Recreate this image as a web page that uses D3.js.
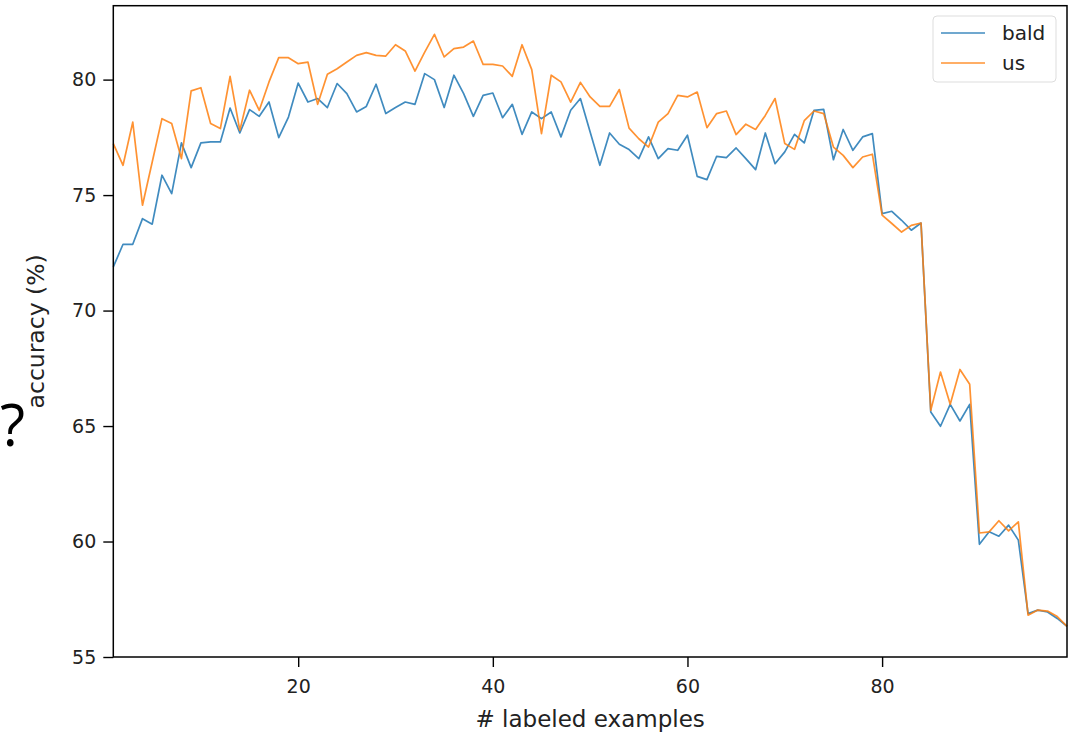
<!DOCTYPE html>
<html>
<head>
<meta charset="utf-8">
<script src="https://cdn.jsdelivr.net/npm/d3@7"></script>
<style>
  html, body { margin: 0; padding: 0; background: #fff; }
  svg { display: block; font-family: "DejaVu Sans", sans-serif; }
  .axis .domain { display: none; }
  .axis line { stroke: #000; stroke-width: 1.4; }
  .axis text { fill: #222; font-size: 19px; font-family: "DejaVu Sans", sans-serif; }
</style>
</head>
<body>
<div id="chart"></div>
<script>
// accuracy vs. number of labeled examples, two selection strategies

const examples = d3.range(1, 100);   // # labeled examples, 1..99

const bald = [
  71.89, 72.87, 72.87, 73.98, 73.74, 75.86, 75.06, 77.26, 76.19, 77.26,
  77.30, 77.30, 78.77, 77.69, 78.70, 78.41, 79.03, 77.49, 78.38, 79.85,
  79.03, 79.18, 78.79, 79.83, 79.39, 78.60, 78.84, 79.80, 78.53, 78.79,
  79.03, 78.93, 80.26, 80.00, 78.79, 80.19, 79.39, 78.41, 79.32, 79.42,
  78.35, 78.93, 77.63, 78.60, 78.31, 78.60, 77.52, 78.67, 79.18, 77.73,
  76.29, 77.69, 77.20, 76.97, 76.58, 77.52, 76.58, 77.01, 76.94, 77.59,
  75.81, 75.67, 76.68, 76.62, 77.04, 76.58, 76.10, 77.69, 76.36, 76.87,
  77.63, 77.26, 78.67, 78.71, 76.53, 77.84, 76.94, 77.52, 77.66, 74.20,
  74.30, 73.91, 73.48, 73.79, 65.61, 64.99, 65.94, 65.22, 65.94, 59.88,
  60.42, 60.23, 60.71, 60.06, 56.88, 57.03, 56.95, 56.67, 56.33
];

const us = [
  77.23, 76.29, 78.16, 74.56, 76.43, 78.31, 78.10, 76.58, 79.51, 79.65,
  78.10, 77.88, 80.14, 77.80, 79.54, 78.67, 79.90, 80.95, 80.95, 80.69,
  80.76, 78.93, 80.23, 80.47, 80.76, 81.05, 81.17, 81.05, 81.02, 81.51,
  81.24, 80.37, 81.19, 81.96, 80.98, 81.34, 81.41, 81.67, 80.66, 80.66,
  80.59, 80.14, 81.51, 80.43, 77.66, 80.19, 79.90, 79.03, 79.88, 79.25,
  78.84, 78.84, 79.57, 77.90, 77.44, 77.08, 78.16, 78.53, 79.32, 79.25,
  79.46, 77.92, 78.53, 78.64, 77.62, 78.07, 77.84, 78.45, 79.18, 77.23,
  76.98, 78.22, 78.64, 78.53, 77.08, 76.72, 76.19, 76.65, 76.77, 74.13,
  73.77, 73.40, 73.69, 73.79, 65.68, 67.34, 65.94, 67.45, 66.81, 60.37,
  60.42, 60.90, 60.46, 60.85, 56.81, 57.03, 56.99, 56.75, 56.33
];

const seriesNames = ["bald", "us"];
const seriesColors = ["#1f77b4", "#ff7f0e"];
const xTicks = [20, 40, 60, 80];
const yTicks = [55, 60, 65, 70, 75, 80];

const W = 1074, H = 734;
const margin = { top: 5.7, right: 7, bottom: 77, left: 113.3 };

const svg = d3.select("#chart").append("svg")
  .attr("width", W).attr("height", H);

const x = d3.scaleLinear().domain([1, 99]).range([margin.left, W - margin.right]);
const y = d3.scaleLinear().domain([55, 83.2]).range([H - margin.bottom, margin.top]);

// lines
const line = d3.line()
  .x((d, i) => x(examples[i]))
  .y(d => y(d));

const gLines = svg.append("g");
[bald, us].forEach((vals, k) => {
  gLines.append("path")
    .attr("d", line(vals))
    .attr("fill", "none")
    .attr("stroke", seriesColors[k])
    .attr("stroke-opacity", 0.85)
    .attr("stroke-width", 1.7)
    .attr("stroke-linejoin", "round");
});

// axes
svg.append("g").attr("class", "axis")
  .attr("transform", `translate(0,${H - margin.bottom})`)
  .call(d3.axisBottom(x).tickValues(xTicks).tickSize(10).tickPadding(13));

svg.append("g").attr("class", "axis")
  .attr("transform", `translate(${margin.left},0)`)
  .call(d3.axisLeft(y).tickValues(yTicks).tickSize(10).tickPadding(7));

// frame
svg.append("rect")
  .attr("x", margin.left).attr("y", margin.top)
  .attr("width", W - margin.right - margin.left)
  .attr("height", H - margin.bottom - margin.top)
  .attr("fill", "none").attr("stroke", "#000").attr("stroke-width", 1.5);

// axis titles
svg.append("text")
  .attr("x", (margin.left + W - margin.right) / 2).attr("y", 727)
  .attr("text-anchor", "middle").attr("font-size", 23).attr("fill", "#222")
  .text("# labeled examples");

svg.append("text")
  .attr("transform", `translate(44,${(margin.top + H - margin.bottom) / 2}) rotate(-90)`)
  .attr("text-anchor", "middle").attr("font-size", 23.5).attr("fill", "#222")
  .text("accuracy (%)");

// legend
const lg = svg.append("g").attr("transform", "translate(933,16)");
lg.append("rect")
  .attr("width", 123).attr("height", 66).attr("rx", 4)
  .attr("fill", "#fff").attr("fill-opacity", 0.8)
  .attr("stroke", "#ddd").attr("stroke-width", 1);
seriesNames.forEach((name, i) => {
  const ly = 17 + i * 30;
  lg.append("line")
    .attr("x1", 8).attr("x2", 52).attr("y1", ly).attr("y2", ly)
    .attr("stroke", seriesColors[i]).attr("stroke-opacity", 0.85).attr("stroke-width", 1.7);
  lg.append("text")
    .attr("x", 69).attr("y", ly + 7)
    .attr("font-size", 20).attr("fill", "#222")
    .text(name);
});

// the stray question mark at the left edge
svg.append("text")
  .attr("x", 0).attr("y", 446)
  .attr("font-family", "'Open Sans', sans-serif")
  .attr("font-size", 58).attr("fill", "#000")
  .text("?");
</script>
</body>
</html>
